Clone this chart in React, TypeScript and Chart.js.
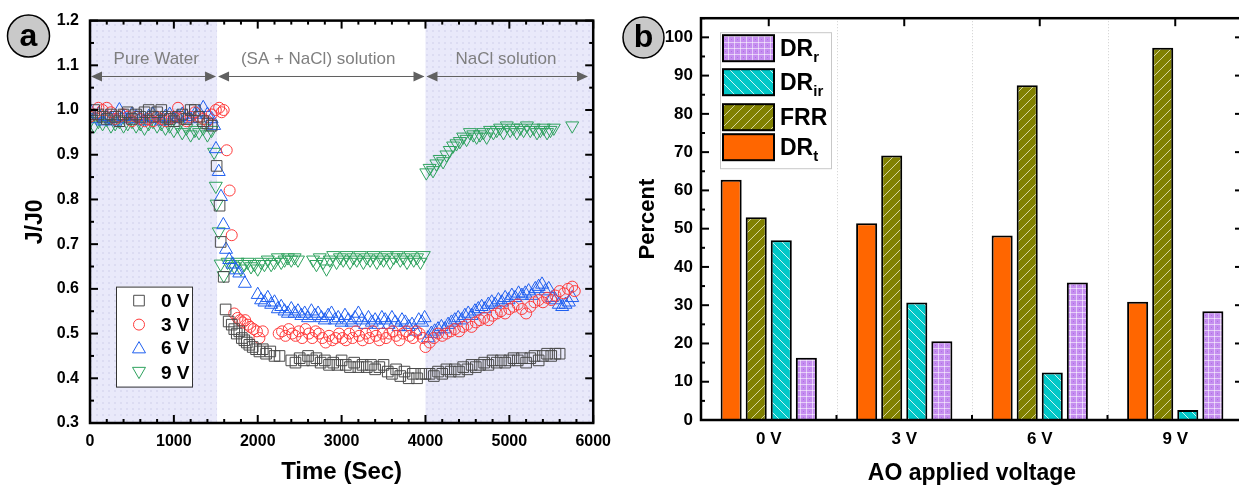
import React, { useEffect, useRef } from 'react';
import { Chart, registerables } from 'chart.js';

Chart.register(...registerables);

const FONT = "'Liberation Sans', Arial, Helvetica, sans-serif";

// ---------------- Panel (a) data ----------------
const series0V: number[][] = [
  [0,0.99],[50,1.0],[100,0.99],[150,0.985],[200,0.98],[250,0.99],[300,0.985],[350,0.975],[400,0.99],[450,0.995],
  [500,0.98],[550,0.99],[600,0.985],[650,0.995],[700,1.0],[750,0.985],[800,0.995],[850,1.0],[900,0.985],[950,0.98],
  [1000,0.975],[1050,0.985],[1100,0.99],[1150,0.98],[1200,1.0],[1250,1.0],[1300,0.985],[1350,0.975],[1400,0.97],[1450,0.965],
  [1510,0.875],[1545,0.786],[1558,0.705],[1594,0.627],[1617,0.554],[1653,0.527],
  [1690,0.52],[1720,0.51],[1750,0.50],[1780,0.505],[1810,0.49],[1840,0.485],[1870,0.48],[1900,0.475],[1940,0.47],
  [1980,0.465],[2020,0.46],[2060,0.465],[2100,0.455],[2150,0.46],[2200,0.45],[2260,0.45],
  [2400,0.44],[2450,0.435],[2500,0.445],[2550,0.44],[2600,0.45],[2650,0.44],[2700,0.445],[2750,0.435],[2800,0.44],
  [2850,0.43],[2900,0.435],[2950,0.43],[3000,0.44],[3050,0.43],[3100,0.425],[3150,0.435],[3200,0.425],[3250,0.43],
  [3300,0.425],[3350,0.43],[3400,0.42],[3450,0.425],[3500,0.43],[3550,0.415],[3600,0.41],[3650,0.42],[3700,0.405],
  [3750,0.415],[3800,0.40],[3850,0.41],[3900,0.40],[3950,0.41],[4000,0.41],
  [4050,0.41],[4100,0.405],[4150,0.415],[4200,0.41],[4250,0.42],[4300,0.415],[4350,0.42],[4400,0.415],[4450,0.425],
  [4500,0.42],[4550,0.43],[4600,0.425],[4650,0.43],[4700,0.435],[4750,0.43],[4800,0.44],[4850,0.435],[4900,0.44],
  [4950,0.435],[5000,0.44],[5050,0.445],[5100,0.44],[5150,0.445],[5200,0.435],[5250,0.445],[5300,0.45],[5350,0.44],
  [5400,0.45],[5450,0.455],[5500,0.45],[5550,0.455],[5600,0.455],
];

const series3V: number[][] = [
  [0,0.985],[50,0.99],[100,1.005],[150,1.0],[200,1.005],[250,0.995],[300,0.98],[350,0.985],[400,0.99],[450,0.985],
  [500,0.975],[550,0.985],[600,0.98],[650,0.975],[700,0.98],[750,0.975],[800,0.985],[850,0.98],[900,0.975],[950,0.98],
  [1000,0.985],[1050,1.005],[1100,0.98],[1150,0.975],[1200,0.985],[1250,0.995],[1300,0.985],[1350,0.98],[1400,0.975],
  [1450,0.99],[1500,1.0],[1540,1.005],[1570,0.995],[1594,1.0],
  [1630,0.91],[1665,0.82],[1690,0.72],
  [1720,0.545],[1760,0.535],[1790,0.53],[1820,0.525],[1850,0.53],[1880,0.52],[1910,0.515],[1950,0.51],[1990,0.505],
  [2020,0.49],[2060,0.505],
  [2250,0.50],[2290,0.505],[2330,0.495],[2370,0.51],[2410,0.50],[2450,0.495],[2490,0.505],[2530,0.49],[2570,0.51],
  [2610,0.50],[2650,0.49],[2690,0.505],[2730,0.50],[2770,0.49],[2810,0.48],[2850,0.495],[2890,0.485],[2930,0.49],
  [2970,0.50],[3010,0.49],[3050,0.485],[3090,0.50],[3130,0.49],[3170,0.505],[3210,0.495],[3250,0.485],[3290,0.50],
  [3330,0.49],[3370,0.505],[3410,0.495],[3450,0.485],[3490,0.50],[3530,0.49],[3570,0.50],[3610,0.505],[3650,0.495],
  [3690,0.485],[3730,0.50],[3770,0.505],[3810,0.495],[3850,0.49],[3890,0.505],[3930,0.50],[3970,0.49],[4000,0.47],
  [4050,0.48],[4100,0.49],[4150,0.50],[4200,0.495],[4250,0.50],[4300,0.505],[4350,0.51],[4400,0.505],[4450,0.515],
  [4500,0.52],[4550,0.515],[4600,0.525],[4650,0.53],[4700,0.535],[4750,0.53],[4800,0.54],[4850,0.545],[4900,0.55],
  [4950,0.545],[5000,0.555],[5050,0.56],[5100,0.565],[5150,0.555],[5200,0.545],[5250,0.56],[5300,0.57],[5350,0.575],
  [5400,0.57],[5450,0.58],[5500,0.575],[5550,0.585],[5600,0.595],[5650,0.59],[5700,0.60],[5750,0.605],[5780,0.595],
];

const series6V: number[][] = [
  [0,1.0],[50,0.98],[100,0.99],[150,0.975],[200,0.985],[250,0.98],[300,0.975],[350,1.0],[400,0.985],[450,0.98],
  [500,0.99],[550,0.985],[600,0.98],[650,0.975],[700,0.985],[750,0.99],[800,0.98],[850,0.975],[900,0.985],[950,0.99],
  [1000,0.98],[1050,0.985],[1100,0.99],[1150,0.985],[1200,0.98],[1250,0.99],[1300,0.995],[1350,1.005],[1400,0.99],
  [1450,0.98],[1480,0.965],
  [1502,0.913],[1535,0.862],[1562,0.806],[1590,0.743],[1622,0.688],[1660,0.665],[1700,0.655],[1740,0.642],[1780,0.635],
  [1847,0.612],
  [2000,0.587],[2040,0.575],[2080,0.57],[2120,0.58],[2160,0.565],[2200,0.57],[2240,0.555],[2280,0.56],[2320,0.55],
  [2360,0.545],[2400,0.555],[2440,0.545],[2480,0.55],[2520,0.54],[2560,0.545],[2600,0.535],[2640,0.55],[2680,0.54],
  [2720,0.545],[2760,0.535],[2800,0.53],[2840,0.54],[2880,0.545],[2920,0.53],[2960,0.535],[3000,0.525],[3040,0.54],
  [3080,0.53],[3120,0.525],[3160,0.535],[3200,0.545],[3240,0.53],[3280,0.52],[3320,0.535],[3360,0.525],[3400,0.53],
  [3440,0.52],[3480,0.535],[3520,0.53],[3560,0.52],[3600,0.535],[3640,0.525],[3680,0.515],[3720,0.53],[3760,0.525],
  [3800,0.515],[3840,0.52],[3880,0.505],[3920,0.53],[3960,0.525],[3990,0.535],
  [4030,0.49],[4070,0.50],[4110,0.505],[4150,0.51],[4190,0.515],[4230,0.51],[4270,0.52],[4310,0.525],[4350,0.53],
  [4390,0.535],[4430,0.53],[4470,0.54],[4510,0.545],[4550,0.54],[4590,0.55],[4630,0.555],[4670,0.56],[4710,0.555],
  [4750,0.565],[4790,0.57],[4830,0.565],[4870,0.575],[4910,0.57],[4950,0.58],[4990,0.575],[5030,0.585],[5070,0.58],
  [5110,0.59],[5150,0.585],[5190,0.59],[5230,0.595],[5270,0.585],[5310,0.60],[5350,0.605],[5390,0.61],[5430,0.595],
  [5470,0.60],[5510,0.58],[5550,0.575],[5590,0.565],[5630,0.56],[5670,0.565],[5710,0.57],[5750,0.58],
];

const series9V: number[][] = [
  [0,0.975],[50,0.965],[100,0.975],[150,0.97],[200,0.98],[250,0.965],[300,0.97],[350,0.975],[400,0.965],[450,0.97],
  [500,0.975],[550,0.965],[600,0.97],[650,0.96],[700,0.97],[750,0.975],[800,0.965],[850,0.97],[900,0.96],[950,0.965],
  [1000,0.955],[1050,0.965],[1100,0.95],[1150,0.96],[1200,0.945],[1250,0.955],[1300,0.95],[1350,0.96],[1400,0.945],
  [1450,0.955],
  [1480,0.906],[1500,0.83],[1510,0.79],[1535,0.728],[1558,0.656],[1595,0.63],
  [1640,0.66],[1680,0.655],[1720,0.65],[1760,0.66],[1800,0.645],[1840,0.655],[1880,0.66],[1920,0.65],[1960,0.655],
  [2000,0.645],[2040,0.66],[2080,0.655],[2120,0.665],[2160,0.655],[2200,0.66],[2240,0.67],[2280,0.66],[2320,0.665],
  [2360,0.67],[2400,0.665],[2440,0.67],[2480,0.665],
  [2660,0.665],[2700,0.655],[2740,0.67],[2780,0.66],[2820,0.645],[2860,0.665],[2900,0.675],[2940,0.66],[2980,0.67],
  [3020,0.665],[3060,0.675],[3100,0.66],[3140,0.67],[3180,0.665],[3220,0.675],[3260,0.66],[3300,0.67],[3340,0.665],
  [3380,0.675],[3420,0.66],[3460,0.67],[3500,0.665],[3540,0.675],[3580,0.66],[3620,0.67],[3660,0.675],[3700,0.665],
  [3740,0.67],[3780,0.66],[3820,0.675],[3860,0.665],[3900,0.67],[3940,0.66],[3980,0.675],
  [4010,0.86],[4050,0.87],[4090,0.865],[4130,0.88],[4170,0.89],[4210,0.885],[4250,0.9],[4290,0.91],[4330,0.92],
  [4370,0.925],[4410,0.93],[4450,0.94],[4490,0.935],[4530,0.95],[4570,0.945],[4610,0.94],[4650,0.945],[4690,0.95],
  [4730,0.94],[4770,0.955],[4810,0.95],[4850,0.955],[4890,0.96],[4930,0.95],[4970,0.965],[5010,0.955],[5050,0.96],
  [5090,0.95],[5130,0.96],[5170,0.955],[5210,0.965],[5250,0.955],[5290,0.96],[5330,0.95],[5370,0.955],[5410,0.96],
  [5450,0.95],[5490,0.955],[5530,0.96],[5750,0.965],
];

const seriesLabelsA = ['0 V', '3 V', '6 V', '9 V'];
const xTicksA = [0, 1000, 2000, 3000, 4000, 5000, 6000];
const yTicksA = [0.3, 0.4, 0.5, 0.6, 0.7, 0.8, 0.9, 1.0, 1.1, 1.2];
const phaseBounds = [0, 1515, 4000, 5950];
const shadeRanges = [[0, 1515], [4000, 6000]];
const phaseLabels = ['Pure Water', '(SA + NaCl) solution', 'NaCl solution'];
const phaseLabelX = [790, 2720, 4960];
const phaseLabelY = 1.114;
const phaseArrowY = 1.075;

// ---------------- Panel (b) data ----------------
const categoriesB = ['0 V', '3 V', '6 V', '9 V'];
const DRt = [62.8, 51.4, 48.2, 30.9];
const FRR = [53.0, 69.1, 87.5, 97.3];
const DRir = [47.0, 30.7, 12.4, 2.6];
const DRr = [16.3, 20.6, 35.9, 28.4];
const yTicksB = [0, 10, 20, 30, 40, 50, 60, 70, 80, 90, 100];

// ---------------- helpers ----------------
function makeTile(w: number, h: number, draw: (c: CanvasRenderingContext2D) => void) {
  const cv = document.createElement('canvas');
  cv.width = w; cv.height = h;
  const c = cv.getContext('2d')!;
  draw(c);
  return cv;
}

function patterns(ctx: CanvasRenderingContext2D) {
  const hatchFwd = makeTile(10, 10, (c) => {
    c.fillStyle = '#808000'; c.fillRect(0, 0, 10, 10);
    c.strokeStyle = 'rgba(235,235,200,0.8)'; c.lineWidth = 1;
    c.beginPath(); c.moveTo(-1, 11); c.lineTo(11, -1); c.stroke();
  });
  const hatchBack = makeTile(10, 10, (c) => {
    c.fillStyle = '#00c8c8'; c.fillRect(0, 0, 10, 10);
    c.strokeStyle = 'rgba(255,255,255,0.8)'; c.lineWidth = 1;
    c.beginPath(); c.moveTo(-1, -1); c.lineTo(11, 11); c.stroke();
  });
  const grid = makeTile(6, 6, (c) => {
    c.fillStyle = '#c58ef0'; c.fillRect(0, 0, 6, 6);
    c.fillStyle = 'rgba(255,255,255,0.55)';
    c.fillRect(0, 0, 6, 1); c.fillRect(0, 0, 1, 6);
    c.fillStyle = '#b070e0'; c.fillRect(3, 3, 1, 1);
  });
  const shade = makeTile(6, 6, (c) => {
    c.fillStyle = '#e9e9fa'; c.fillRect(0, 0, 6, 6);
    c.fillStyle = '#dcdcf2'; c.fillRect(0, 0, 2, 2);
  });
  return {
    frr: ctx.createPattern(hatchFwd, 'repeat')!,
    drir: ctx.createPattern(hatchBack, 'repeat')!,
    drr: ctx.createPattern(grid, 'repeat')!,
    shade: ctx.createPattern(shade, 'repeat')!,
  };
}

function line(ctx: CanvasRenderingContext2D, x1: number, y1: number, x2: number, y2: number) {
  ctx.beginPath(); ctx.moveTo(x1, y1); ctx.lineTo(x2, y2); ctx.stroke();
}

function marker(ctx: CanvasRenderingContext2D, style: string, x: number, y: number, r: number, color: string, rot = 0) {
  ctx.save();
  ctx.strokeStyle = color; ctx.lineWidth = 1;
  ctx.beginPath();
  if (style === 'rect') {
    const s = r * Math.SQRT1_2;
    ctx.rect(x - s, y - s, 2 * s, 2 * s);
  } else if (style === 'circle') {
    ctx.arc(x, y, r, 0, Math.PI * 2);
  } else {
    let a = (rot * Math.PI) / 180;
    ctx.moveTo(x + Math.sin(a) * r, y - Math.cos(a) * r);
    a += (2 * Math.PI) / 3;
    ctx.lineTo(x + Math.sin(a) * r, y - Math.cos(a) * r);
    a += (2 * Math.PI) / 3;
    ctx.lineTo(x + Math.sin(a) * r, y - Math.cos(a) * r);
    ctx.closePath();
  }
  ctx.stroke();
  ctx.restore();
}

function arrowHead(ctx: CanvasRenderingContext2D, tipX: number, y: number, dir: number) {
  ctx.beginPath();
  ctx.moveTo(tipX, y);
  ctx.lineTo(tipX - dir * 11, y - 5);
  ctx.lineTo(tipX - dir * 11, y + 5);
  ctx.closePath();
  ctx.fill();
}

function circleLabel(ctx: CanvasRenderingContext2D, cx: number, cy: number, r: number, text: string) {
  ctx.save();
  ctx.beginPath(); ctx.arc(cx, cy, r, 0, Math.PI * 2);
  ctx.fillStyle = '#c9c9c9'; ctx.fill();
  ctx.lineWidth = 1.5; ctx.strokeStyle = '#000'; ctx.stroke();
  ctx.fillStyle = '#000'; ctx.font = `bold 32px ${FONT}`;
  ctx.textAlign = 'center'; ctx.textBaseline = 'middle';
  ctx.fillText(text, cx, cy + 1);
  ctx.restore();
}

const colorsA = ['#4a4a4a', '#ff3b3b', '#1f5ff0', '#2ea25e'];
const stylesA = ['rect', 'circle', 'triangle', 'triangle'];
const rotA = [0, 0, 0, 180];
const radiusA = [7.5, 5.5, 7.5, 7.5];

// ---------------- Panel A ----------------
function PanelA() {
  const ref = useRef<HTMLCanvasElement>(null);
  useEffect(() => {
    const cv = ref.current!;
    const ctx0 = cv.getContext('2d')!;
    const pats = patterns(ctx0);
    const plugin = {
      id: 'panelA',
      beforeDatasetsDraw(chart: any) {
        const { ctx, chartArea: ca, scales: { x, y } } = chart;
        ctx.save();
        ctx.fillStyle = pats.shade;
        for (const [a, b] of shadeRanges) {
          const x1 = x.getPixelForValue(a), x2 = x.getPixelForValue(b);
          ctx.fillRect(x1, ca.top, x2 - x1, ca.bottom - ca.top);
        }
        const ay = y.getPixelForValue(phaseArrowY);
        ctx.strokeStyle = '#606060'; ctx.fillStyle = '#606060'; ctx.lineWidth = 1;
        for (let i = 0; i < phaseBounds.length - 1; i++) {
          const x1 = x.getPixelForValue(phaseBounds[i]);
          const x2 = x.getPixelForValue(phaseBounds[i + 1]);
          line(ctx, x1 + 2, ay, x2 - 2, ay);
          arrowHead(ctx, x1 + 1, ay, -1);
          arrowHead(ctx, x2 - 1, ay, 1);
        }
        ctx.fillStyle = '#7f7f7f';
        ctx.font = `17px ${FONT}`;
        ctx.textAlign = 'center'; ctx.textBaseline = 'middle';
        phaseLabels.forEach((t, i) => ctx.fillText(t, x.getPixelForValue(phaseLabelX[i]), y.getPixelForValue(phaseLabelY)));
        ctx.restore();
      },
      afterDatasetsDraw(chart: any) {
        const { ctx, chartArea: ca, scales: { x, y } } = chart;
        ctx.save();
        ctx.strokeStyle = '#000'; ctx.lineWidth = 2;
        for (let i = 0; i < xTicksA.length; i++) {
          const px = x.getPixelForValue(xTicksA[i]);
          line(ctx, px, ca.bottom, px, ca.bottom - 8);
          line(ctx, px, ca.top, px, ca.top + 8);
          if (i < xTicksA.length - 1) {
            const step = (xTicksA[i + 1] - xTicksA[i]) / 5;
            for (let k = 1; k < 5; k++) {
              const mx = x.getPixelForValue(xTicksA[i] + k * step);
              line(ctx, mx, ca.bottom, mx, ca.bottom - 4);
              line(ctx, mx, ca.top, mx, ca.top + 4);
            }
          }
        }
        for (let i = 0; i < yTicksA.length; i++) {
          const py = y.getPixelForValue(yTicksA[i]);
          line(ctx, ca.left, py, ca.left + 8, py);
          line(ctx, ca.right, py, ca.right - 8, py);
          if (i < yTicksA.length - 1) {
            const my = y.getPixelForValue((yTicksA[i] + yTicksA[i + 1]) / 2);
            line(ctx, ca.left, my, ca.left + 4, my);
            line(ctx, ca.right, my, ca.right - 4, my);
          }
        }
        ctx.lineWidth = 2.5;
        ctx.strokeRect(ca.left, ca.top, ca.right - ca.left, ca.bottom - ca.top);

        // legend
        const lx = ca.left + 26, ly = ca.top + 266, lw = 76, lh = 100;
        ctx.fillStyle = '#fff'; ctx.fillRect(lx, ly, lw, lh);
        ctx.lineWidth = 1; ctx.strokeStyle = '#333'; ctx.strokeRect(lx + 0.5, ly + 0.5, lw, lh);
        ctx.font = `bold 19px ${FONT}`; ctx.fillStyle = '#000';
        ctx.textAlign = 'left'; ctx.textBaseline = 'middle';
        const rowsY = [14, 38, 61, 86];
        for (let i = 0; i < seriesLabelsA.length; i++) {
          const cy = ly + rowsY[i];
          marker(ctx, stylesA[i], lx + 23, cy + (i === 2 ? 1.5 : i === 3 ? -1.5 : 0), radiusA[i], colorsA[i], rotA[i]);
          ctx.fillText(seriesLabelsA[i], lx + 45, cy + 1);
        }
        ctx.restore();
        circleLabel(ctx, 28.5, 36, 21, 'a');
      },
    };
    const seriesA = [series0V, series3V, series6V, series9V];
    const chart = new Chart(cv, {
      type: 'scatter',
      data: {
        datasets: seriesA.map((s, i) => ({
          label: seriesLabelsA[i],
          data: s.map(([t, v]) => ({ x: t, y: v })),
          pointStyle: stylesA[i] as any,
          pointRotation: rotA[i],
          pointRadius: radiusA[i],
          pointBorderWidth: 1,
          borderColor: colorsA[i],
          backgroundColor: 'rgba(0,0,0,0)',
          showLine: false,
        })),
      },
      options: {
        animation: false,
        responsive: false,
        devicePixelRatio: 1,
        layout: { padding: { left: 0, right: 23, top: 16, bottom: 0 } },
        plugins: { legend: { display: false }, tooltip: { enabled: false } },
        events: [],
        scales: {
          x: {
            type: 'linear', min: 0, max: 6000,
            afterFit: (s: any) => { s.height = 65; },
            afterBuildTicks: (s: any) => { s.ticks = xTicksA.map((v) => ({ value: v })); },
            grid: { display: false, drawTicks: false },
            border: { display: false },
            ticks: { padding: 9, color: '#000', font: { family: FONT, size: 16, weight: 'bold' }, maxRotation: 0, callback: (v: any) => String(v) },
            title: { display: true, text: 'Time (Sec)', color: '#000', font: { family: FONT, size: 24, weight: 'bold' }, padding: { top: 0, bottom: 1 } },
          },
          y: {
            type: 'linear', min: 0.3, max: 1.2,
            afterFit: (s: any) => { s.width = 90; },
            afterBuildTicks: (s: any) => { s.ticks = yTicksA.map((v) => ({ value: v })); },
            grid: { display: false, drawTicks: false },
            border: { display: false },
            ticks: { padding: 11, color: '#000', font: { family: FONT, size: 16, weight: 'bold' }, callback: (v: any) => Number(v).toFixed(1) },
            title: { display: true, text: 'J/J0', color: '#000', font: { family: FONT, size: 23, weight: 'bold' }, padding: { top: 22, bottom: 0 } },
          },
        },
      },
      plugins: [plugin],
    } as any);
    return () => chart.destroy();
  }, []);
  return <canvas ref={ref} width={620} height={488} style={{ position: 'absolute', left: 0, top: 0, width: 620, height: 488 }} />;
}

// ---------------- Panel B ----------------
function PanelB() {
  const ref = useRef<HTMLCanvasElement>(null);
  useEffect(() => {
    const cv = ref.current!;
    const ctx0 = cv.getContext('2d')!;
    const pats = patterns(ctx0);
    const fills = ['#ff6600', pats.frr, pats.drir, pats.drr];
    const names = ['DR', 'FRR', 'DR', 'DR'];
    const subs = ['t', '', 'ir', 'r'];
    const values = [DRt, FRR, DRir, DRr];
    const plugin = {
      id: 'panelB',
      beforeDatasetsDraw(chart: any) {
        const { ctx, chartArea: ca, scales: { x } } = chart;
        ctx.save();
        ctx.strokeStyle = '#cfcfcf'; ctx.lineWidth = 1; ctx.setLineDash([1, 2]);
        for (let i = 0; i < categoriesB.length - 1; i++) {
          const bx = Math.round((x.getPixelForValue(i) + x.getPixelForValue(i + 1)) / 2) + 0.5;
          line(ctx, bx, ca.top, bx, ca.bottom);
        }
        ctx.restore();
      },
      afterDatasetsDraw(chart: any) {
        const { ctx, chartArea: ca, scales: { x, y } } = chart;
        ctx.save();
        ctx.strokeStyle = '#000'; ctx.lineWidth = 2;
        for (let i = 0; i < yTicksB.length; i++) {
          const py = y.getPixelForValue(yTicksB[i]);
          line(ctx, ca.left, py, ca.left + 8, py);
          line(ctx, ca.right, py, ca.right - 8, py);
          const my = y.getPixelForValue(yTicksB[i] + 5);
          line(ctx, ca.left, my, ca.left + 4, my);
          line(ctx, ca.right, my, ca.right - 4, my);
        }
        for (let i = 0; i < categoriesB.length; i++) {
          const cx = x.getPixelForValue(i);
          line(ctx, cx, ca.top, cx, ca.top + 8);
          if (i < categoriesB.length - 1) {
            const bx = (x.getPixelForValue(i) + x.getPixelForValue(i + 1)) / 2;
            line(ctx, bx, ca.bottom, bx, ca.bottom - 5);
          }
        }
        ctx.lineWidth = 2.5;
        ctx.strokeRect(ca.left, ca.top, ca.right - ca.left, ca.bottom - ca.top);

        // legend
        const bx = ca.left + 19, by = ca.top + 14, bw = 111, bh = 136;
        ctx.fillStyle = '#fff'; ctx.fillRect(bx, by, bw, bh);
        ctx.lineWidth = 1; ctx.strokeStyle = '#c8c8c8'; ctx.strokeRect(bx + 0.5, by + 0.5, bw, bh);
        const order = [3, 2, 1, 0];
        const rowTops = [3, 37, 72, 102];
        order.forEach((di, r) => {
          const sy = by + rowTops[r];
          ctx.fillStyle = fills[di] as any;
          ctx.fillRect(bx + 3, sy, 51, 26);
          ctx.lineWidth = 2; ctx.strokeStyle = '#000';
          ctx.strokeRect(bx + 3, sy, 51, 26);
          ctx.fillStyle = '#000';
          ctx.textAlign = 'left'; ctx.textBaseline = 'alphabetic';
          ctx.font = `bold 23px ${FONT}`;
          const base = sy + 21;
          ctx.fillText(names[di], bx + 60, base);
          if (subs[di]) {
            const w = ctx.measureText(names[di]).width;
            ctx.font = `bold 15px ${FONT}`;
            ctx.fillText(subs[di], bx + 60 + w, base + 6);
          }
        });
        ctx.restore();
        circleLabel(ctx, 23.5, 37.5, 20.5, 'b');
      },
    };
    const chart = new Chart(cv, {
      type: 'bar',
      data: {
        labels: categoriesB,
        datasets: values.map((v, i) => ({
          label: names[i] + subs[i],
          data: v,
          backgroundColor: fills[i],
          borderColor: '#000',
          borderWidth: 2,
          categoryPercentage: 0.74,
          barPercentage: 0.84,
        })),
      },
      options: {
        animation: false,
        responsive: false,
        devicePixelRatio: 1,
        layout: { padding: { left: 0, right: 17, top: 16, bottom: 0 } },
        plugins: { legend: { display: false }, tooltip: { enabled: false } },
        events: [],
        scales: {
          x: {
            afterFit: (s: any) => { s.height = 68; },
            grid: { display: false, drawTicks: false },
            border: { display: false },
            ticks: { padding: 9, color: '#000', font: { family: FONT, size: 17, weight: 'bold' } },
            title: { display: true, text: 'AO applied voltage', color: '#000', font: { family: FONT, size: 23, weight: 'bold' }, padding: { top: 0, bottom: 1 } },
          },
          y: {
            type: 'linear', min: 0, max: 105,
            afterFit: (s: any) => { s.width = 81; },
            afterBuildTicks: (s: any) => { s.ticks = yTicksB.map((v) => ({ value: v })); },
            grid: { display: false, drawTicks: false },
            border: { display: false },
            ticks: { padding: 8, color: '#000', font: { family: FONT, size: 17, weight: 'bold' } },
            title: { display: true, text: 'Percent', color: '#000', font: { family: FONT, size: 22, weight: 'bold' }, padding: { top: 15, bottom: 0 } },
          },
        },
      },
      plugins: [plugin],
    } as any);
    return () => chart.destroy();
  }, []);
  return <canvas ref={ref} width={640} height={488} style={{ position: 'absolute', left: 620, top: 0, width: 640, height: 488 }} />;
}

export default function App() {
  return (
    <div style={{ position: 'fixed', left: 0, top: 0, width: 1239, height: 488, overflow: 'hidden', background: '#fff' }}>
      <PanelA />
      <PanelB />
    </div>
  );
}
